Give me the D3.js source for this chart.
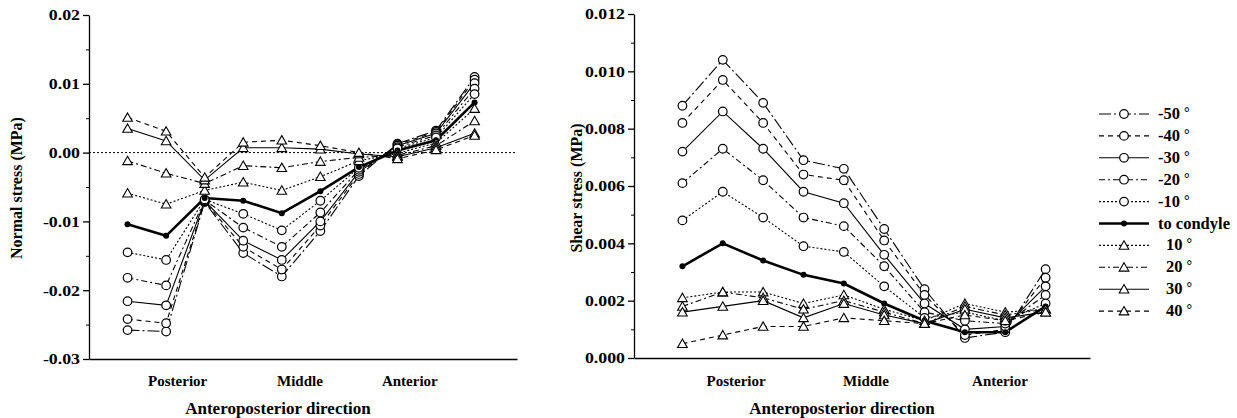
<!DOCTYPE html>
<html>
  <head>
    <meta charset="utf-8">
    <title>Normal and shear stress along the disc</title>
    <script src="https://d3js.org/d3.v7.min.js"></script>
    <style>
      body { margin: 0; background: #fff; }
      text { font-family: "Liberation Serif", "Times New Roman", serif; font-weight: bold; fill: #000; }
    </style>
  </head>
  <body>
    <script>
        // measurement points along the disc, posterior -> anterior
        var points = [0, 1, 2, 3, 4, 5, 6, 7, 8, 9];
        var seriesNames = ["-50", "-40", "-30", "-20", "-10", "to condyle", "10", "20", "30", "40"];
        var regionLabels = ["Posterior", "Middle", "Anterior"];

        // Normal stress (MPa)
        var normalM50  = [-0.0258, -0.0260, -0.0072, -0.0146, -0.0180, -0.0114, -0.0034, 0.0013, 0.0032, 0.0110];
        var normalM40  = [-0.0242, -0.0248, -0.0071, -0.0137, -0.0170, -0.0106, -0.0031, 0.0012, 0.0030, 0.0106];
        var normalM30  = [-0.0216, -0.0222, -0.0070, -0.0128, -0.0156, -0.0100, -0.0028, 0.0010, 0.0028, 0.0101];
        var normalM20  = [-0.0182, -0.0193, -0.0069, -0.0109, -0.0137, -0.0087, -0.0025, 0.0008, 0.0025, 0.0093];
        var normalM10  = [-0.0145, -0.0156, -0.0068, -0.0089, -0.0113, -0.0070, -0.0022, 0.0006, 0.0022, 0.0085];
        var normalCond = [-0.0104, -0.0121, -0.0066, -0.0070, -0.0088, -0.0056, -0.0021, 0.0003, 0.0018, 0.0073];
        var normalP10  = [-0.0059, -0.0075, -0.0055, -0.0043, -0.0055, -0.0035, -0.0012, -0.0001, 0.0014, 0.0064];
        var normalP20  = [-0.0012, -0.0030, -0.0045, -0.0019, -0.0022, -0.0013, -0.0007, -0.0004, 0.0010, 0.0046];
        var normalP30  = [0.0035, 0.0017, -0.0040, 0.0007, 0.0007, 0.0005, -0.0002, -0.0006, 0.0007, 0.0028];
        var normalP40  = [0.0051, 0.0031, -0.0036, 0.0015, 0.0018, 0.0010, 0.0000, -0.0009, 0.0004, 0.0025];
        var normalTicks = [0.02, 0.01, 0.00, -0.01, -0.02, -0.03];

        // Shear stress (MPa)
        var shearM50  = [0.0088, 0.0104, 0.0089, 0.0069, 0.0066, 0.0045, 0.0024, 0.0007, 0.0009, 0.0031];
        var shearM40  = [0.0082, 0.0097, 0.0082, 0.0064, 0.0062, 0.0041, 0.0022, 0.0008, 0.0010, 0.0028];
        var shearM30  = [0.0072, 0.0086, 0.0073, 0.0058, 0.0054, 0.0036, 0.0019, 0.0010, 0.0011, 0.0025];
        var shearM20  = [0.0061, 0.0073, 0.0062, 0.0049, 0.0046, 0.0032, 0.0016, 0.0013, 0.0012, 0.0022];
        var shearM10  = [0.0048, 0.0058, 0.0049, 0.0039, 0.0037, 0.0025, 0.0014, 0.0016, 0.0013, 0.0019];
        var shearCond = [0.0032, 0.0040, 0.0034, 0.0029, 0.0026, 0.0019, 0.0013, 0.0009, 0.0009, 0.0018];
        var shearP10  = [0.0021, 0.0023, 0.0023, 0.0019, 0.0022, 0.0017, 0.0013, 0.0019, 0.0016, 0.0017];
        var shearP20  = [0.0018, 0.0023, 0.0021, 0.0017, 0.0020, 0.0016, 0.0012, 0.0018, 0.0015, 0.0017];
        var shearP30  = [0.0016, 0.0018, 0.0020, 0.0014, 0.0019, 0.0015, 0.0012, 0.0017, 0.0014, 0.0016];
        var shearP40  = [0.0005, 0.0008, 0.0011, 0.0011, 0.0014, 0.0013, 0.0012, 0.0015, 0.0013, 0.0016];
        var shearTicks = [0.012, 0.010, 0.008, 0.006, 0.004, 0.002, 0.000];

        // line style + marker per series
        var dashes  = ["12,3,2,3", "5,4", null, "6,3,2,3", "2,2", null, "2,2", "6,3,2,3", null, "5,4"];
        var markers = ["circle", "circle", "circle", "circle", "circle", "dot", "tri", "tri", "tri", "tri"];

        var normalTable = [normalM50, normalM40, normalM30, normalM20, normalM10, normalCond, normalP10, normalP20, normalP30, normalP40];
        var shearTable  = [shearM50, shearM40, shearM30, shearM20, shearM10, shearCond, shearP10, shearP20, shearP30, shearP40];

        var svg = d3.select("body").append("svg")
            .attr("width", 1237)
            .attr("height", 418);

        var triPath = "M0,-4.6L4.8,3.8L-4.8,3.8Z";
        var stretch = 1.15;  // tick labels are a bit wider than plain Times

        function drawMarker(g, kind, cx, cy) {
          if (kind == "circle") {
            g.append("circle").attr("cx", cx).attr("cy", cy).attr("r", 4.3)
              .attr("fill", "#fff").attr("stroke", "#000").attr("stroke-width", 1.2);
          } else if (kind == "dot") {
            g.append("circle").attr("cx", cx).attr("cy", cy).attr("r", 3)
              .attr("fill", "#000");
          } else {
            g.append("path").attr("d", triPath)
              .attr("transform", "translate(" + cx + "," + cy + ")")
              .attr("fill", "#fff").attr("stroke", "#000").attr("stroke-width", 1.1);
          }
        }

        function drawPanel(cfg) {
          var x = d3.scaleLinear().domain(cfg.xDomain).range(cfg.xRange);
          var y = d3.scaleLinear().domain(cfg.yDomain).range(cfg.yRange);
          var g = svg.append("g");

          // minor ticks
          g.append("g")
            .attr("transform", "translate(" + cfg.xRange[0] + ",0)")
            .call(d3.axisLeft(y).tickValues(cfg.minor).tickSize(3).tickSizeOuter(0).tickFormat(""))
            .call(function(a) { a.select(".domain").remove(); });

          var yAxis = g.append("g")
            .attr("transform", "translate(" + cfg.xRange[0] + ",0)")
            .call(d3.axisLeft(y).tickValues(cfg.ticks).tickSize(6).tickSizeOuter(0)
              .tickFormat(function(d) { return d.toFixed(cfg.digits); }));
          yAxis.selectAll("text")
            .style("font-size", "15.5px")
            .attr("x", -9 / stretch)
            .attr("transform", "scale(" + stretch + ",1)");
          yAxis.selectAll("line, path").attr("stroke-width", 1.3);

          var xAxis = g.append("g")
            .attr("transform", "translate(0," + cfg.yRange[0] + ")")
            .call(d3.axisBottom(x).tickValues([]).tickSizeOuter(0));
          xAxis.select(".domain").attr("stroke-width", 1.3);

          if (cfg.zeroLine) {
            g.append("line")
              .attr("x1", cfg.xRange[0]).attr("x2", cfg.xRange[1])
              .attr("y1", y(0)).attr("y2", y(0))
              .attr("stroke", "#000").attr("stroke-width", 1).attr("stroke-dasharray", "2,2");
          }

          var line = d3.line()
            .x(function(d, i) { return x(points[i]); })
            .y(function(d) { return y(d); });

          cfg.table.forEach(function(vals, s) {
            g.append("path")
              .datum(vals)
              .attr("d", line)
              .attr("fill", "none")
              .attr("stroke", "#000")
              .attr("stroke-width", markers[s] == "dot" ? 2.6 : 1.1)
              .attr("stroke-dasharray", dashes[s]);
          });
          cfg.table.forEach(function(vals, s) {
            vals.forEach(function(v, i) {
              drawMarker(g, markers[s], x(points[i]), y(v));
            });
          });

          regionLabels.forEach(function(lab, i) {
            g.append("text")
              .attr("x", x(cfg.regionPos[i]))
              .attr("y", 386)
              .attr("text-anchor", "middle")
              .style("font-size", "15px")
              .text(lab);
          });

          g.append("text")
            .attr("x", cfg.xTitleX)
            .attr("y", 414)
            .attr("text-anchor", "middle")
            .style("font-size", "17px")
            .text("Anteroposterior direction");

          g.append("text")
            .attr("transform", "translate(" + cfg.yTitleX + ",188) rotate(-90)")
            .attr("text-anchor", "middle")
            .style("font-size", "16px")
            .text(cfg.yTitle);
        }

        drawPanel({
          table: normalTable,
          xDomain: [-1, 10.1], xRange: [89, 517],
          yDomain: [-0.03, 0.02], yRange: [359, 15],
          ticks: normalTicks, minor: d3.range(-0.025, 0.02, 0.01), digits: 2,
          zeroLine: true,
          regionPos: [1.3, 4.47, 7.32],
          xTitleX: 278, yTitleX: 22, yTitle: "Normal stress (MPa)"
        });

        drawPanel({
          table: shearTable,
          xDomain: [-1.2, 10.1], xRange: [634, 1090],
          yDomain: [0, 0.012], yRange: [358, 14],
          ticks: shearTicks, minor: d3.range(0.001, 0.012, 0.002), digits: 3,
          zeroLine: false,
          regionPos: [1.33, 4.55, 7.87],
          xTitleX: 842, yTitleX: 582, yTitle: "Shear stress (MPa)"
        });

        // legend
        var legend = svg.append("g");
        seriesNames.forEach(function(name, s) {
          var ly = 114 + s * 21.9;
          legend.append("line")
            .attr("x1", 1099).attr("x2", 1149)
            .attr("y1", ly).attr("y2", ly)
            .attr("stroke", "#000")
            .attr("stroke-width", markers[s] == "dot" ? 2.6 : 1.1)
            .attr("stroke-dasharray", dashes[s]);
          drawMarker(legend, markers[s], 1124, ly);
          var t = legend.append("text")
            .attr("x", name.charAt(0) == "-" || markers[s] == "dot" ? 1158 : 1166)
            .attr("y", ly + 5)
            .style("font-size", "16.5px")
            .text(name);
          if (markers[s] != "dot") {
            t.append("tspan").attr("dx", 4).attr("dy", -2).style("font-size", "14px").text("°");
          }
        });
    </script>
  </body>
</html>
